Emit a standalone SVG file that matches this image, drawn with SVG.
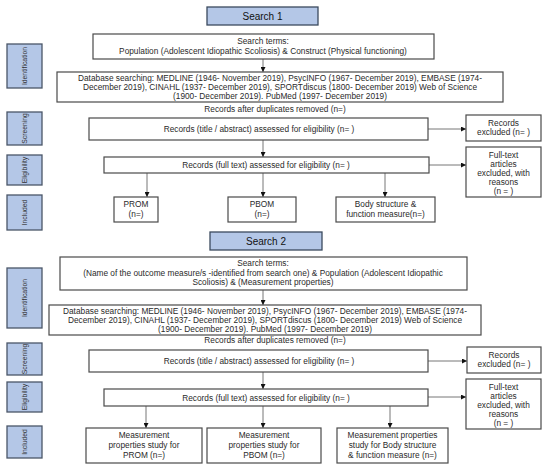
<svg xmlns="http://www.w3.org/2000/svg" width="544" height="467" viewBox="0 0 544 467">
<defs>
<marker id="ah" viewBox="0 0 10 10" refX="10" refY="5" markerWidth="5" markerHeight="5" orient="auto" markerUnits="userSpaceOnUse">
<path d="M0,0 L10,5 L0,10 z" fill="#111"/>
</marker>
<style>
.bx{fill:#fff;stroke:#4a4a4a;stroke-width:1.2}
.hd{fill:#b4c7e7;stroke:#3b4a5e;stroke-width:1.3}
.sd{fill:#b4c7e7;stroke:#4a5668;stroke-width:1.3}
.t{font-family:"Liberation Sans",Arial,sans-serif;font-size:8.3px;fill:#2a2a2a;text-anchor:middle}
.h{font-family:"Liberation Sans",Arial,sans-serif;font-size:10px;fill:#111;text-anchor:middle}
.s{font-family:"Liberation Sans",Arial,sans-serif;font-size:6.8px;fill:#333;text-anchor:middle}
.c{fill:none;stroke:#777;stroke-width:1;marker-end:url(#ah)}
</style>
</defs>
<rect width="544" height="467" fill="#fff"/>

<!-- side labels -->
<g id="side-identification-1"><rect class="sd" x="7" y="44" width="35" height="44"/><text class="s" transform="translate(27 66) rotate(-90)">Identification</text></g>
<g id="side-screening-1"><rect class="sd" x="7" y="112" width="35" height="33"/><text class="s" transform="translate(27 128.5) rotate(-90)">Screening</text></g>
<g id="side-eligibility-1"><rect class="sd" x="7" y="155" width="35" height="30"/><text class="s" transform="translate(27 170) rotate(-90)">Eligibility</text></g>
<g id="side-included-1"><rect class="sd" x="7" y="195" width="35" height="35"/><text class="s" transform="translate(27 212.5) rotate(-90)">Included</text></g>
<g id="side-identification-2"><rect class="sd" x="7" y="268" width="35" height="60"/><text class="s" transform="translate(27 298) rotate(-90)">Identification</text></g>
<g id="side-screening-2"><rect class="sd" x="7" y="343" width="35" height="32"/><text class="s" transform="translate(27 359) rotate(-90)">Screening</text></g>
<g id="side-eligibility-2"><rect class="sd" x="7" y="382" width="35" height="30"/><text class="s" transform="translate(27 397) rotate(-90)">Eligibility</text></g>
<g id="side-included-2"><rect class="sd" x="7" y="426" width="35" height="32"/><text class="s" transform="translate(27 442) rotate(-90)">Included</text></g>

<!-- connectors -->
<g id="connectors">
<line class="c" x1="263" y1="59" x2="263" y2="72"/>
<line class="c" x1="428" y1="129" x2="466" y2="129"/>
<line class="c" x1="263" y1="140" x2="263" y2="157"/>
<line class="c" x1="429" y1="165" x2="466" y2="165"/>
<line class="c" x1="147" y1="173" x2="147" y2="197"/>
<line class="c" x1="263" y1="173" x2="263" y2="197"/>
<line class="c" x1="385" y1="173" x2="385" y2="197"/>
<line class="c" x1="263" y1="290" x2="263" y2="305"/>
<line class="c" x1="428" y1="361" x2="467" y2="361"/>
<line class="c" x1="263" y1="372" x2="263" y2="389"/>
<line class="c" x1="428" y1="397" x2="466" y2="397"/>
<line class="c" x1="146" y1="406" x2="146" y2="428"/>
<line class="c" x1="263" y1="406" x2="263" y2="428"/>
<line class="c" x1="390" y1="406" x2="390" y2="428"/>
</g>

<!-- Search 1 -->
<g id="search1"><rect class="hd" x="207" y="7" width="111" height="18"/><text class="h" x="262.5" y="19.5">Search 1</text></g>
<g id="terms1"><rect class="bx" x="93" y="34" width="341" height="25"/>
<text class="t" x="263" y="44">Search terms:</text>
<text class="t" x="263" y="54">Population (Adolescent Idiopathic Scoliosis) &amp; Construct (Physical functioning)</text></g>
<g id="db1"><rect class="bx" x="57" y="72" width="446" height="30"/>
<text class="t" x="280" y="81">Database searching: MEDLINE (1946- November 2019), PsycINFO (1967- December 2019), EMBASE (1974-</text>
<text class="t" x="280" y="90">December 2019), CINAHL (1937- December 2019), SPORTdiscus (1800- December 2019) Web of Science</text>
<text class="t" x="280" y="99">(1900- December 2019). PubMed (1997- December 2019)</text></g>
<g id="dup1"><text class="t" x="275" y="112">Records after duplicates removed (n=)</text></g>
<g id="title1"><rect class="bx" x="89" y="118" width="339" height="22"/><text class="t" x="259" y="131.5">Records (title / abstract) assessed for eligibility (n= )</text></g>
<g id="excl1"><rect class="bx" x="466" y="115" width="75" height="26"/>
<text class="t" x="503.5" y="126">Records</text><text class="t" x="503.5" y="135">excluded (n= )</text></g>
<g id="full1"><rect class="bx" x="104" y="157" width="325" height="16"/><text class="t" x="266" y="168">Records (full text) assessed for eligibility (n= )</text></g>
<g id="ftexcl1"><rect class="bx" x="466" y="147" width="75" height="50"/>
<text class="t" x="503.5" y="158">Full-text</text><text class="t" x="503.5" y="167">articles</text><text class="t" x="503.5" y="176">excluded, with</text><text class="t" x="503.5" y="185">reasons</text><text class="t" x="503.5" y="194">(n =  )</text></g>
<g id="prom1"><rect class="bx" x="114" y="197" width="44" height="25"/><text class="t" x="136" y="207">PROM</text><text class="t" x="136" y="217">(n=)</text></g>
<g id="pbom1"><rect class="bx" x="228" y="197" width="68" height="25"/><text class="t" x="262" y="207">PBOM</text><text class="t" x="262" y="217">(n=)</text></g>
<g id="body1"><rect class="bx" x="336" y="197" width="99" height="25"/><text class="t" x="385.5" y="207">Body structure &amp;</text><text class="t" x="385.5" y="217">function measure(n=)</text></g>

<!-- Search 2 -->
<g id="search2"><rect class="hd" x="210" y="232" width="112" height="18"/><text class="h" x="266" y="244.5">Search 2</text></g>
<g id="terms2"><rect class="bx" x="60" y="257" width="407" height="33"/>
<text class="t" x="263" y="266">Search terms:</text>
<text class="t" x="263" y="275.5">(Name of the outcome measure/s -identified from search one) &amp; Population (Adolescent Idiopathic</text>
<text class="t" x="263" y="285">Scoliosis)   &amp; (Measurement properties)</text></g>
<g id="db2"><rect class="bx" x="49" y="305" width="432" height="30"/>
<text class="t" x="265" y="314">Database searching: MEDLINE (1946- November 2019), PsycINFO (1967- December 2019), EMBASE (1974-</text>
<text class="t" x="265" y="323">December 2019), CINAHL (1937- December 2019), SPORTdiscus (1800- December 2019) Web of Science</text>
<text class="t" x="265" y="332">(1900- December 2019). PubMed (1997- December 2019)</text></g>
<g id="dup2"><text class="t" x="275" y="343">Records after duplicates removed (n=)</text></g>
<g id="title2"><rect class="bx" x="89" y="350" width="339" height="22"/><text class="t" x="259" y="363.5">Records (title / abstract) assessed for eligibility (n= )</text></g>
<g id="excl2"><rect class="bx" x="467" y="347" width="74" height="26"/>
<text class="t" x="504" y="358">Records</text><text class="t" x="504" y="367">excluded (n= )</text></g>
<g id="full2"><rect class="bx" x="104" y="389" width="324" height="17"/><text class="t" x="266" y="400.5">Records (full text) assessed for eligibility (n= )</text></g>
<g id="ftexcl2"><rect class="bx" x="466" y="379" width="75" height="50"/>
<text class="t" x="503.5" y="390">Full-text</text><text class="t" x="503.5" y="399">articles</text><text class="t" x="503.5" y="408">excluded, with</text><text class="t" x="503.5" y="417">reasons</text><text class="t" x="503.5" y="426">(n =  )</text></g>
<g id="prom2"><rect class="bx" x="86" y="428" width="116" height="35"/>
<text class="t" x="144" y="438">Measurement</text><text class="t" x="144" y="448">properties study for</text><text class="t" x="144" y="458">PROM (n=)</text></g>
<g id="pbom2"><rect class="bx" x="207" y="428" width="114" height="35"/>
<text class="t" x="264" y="438">Measurement</text><text class="t" x="264" y="448">properties study for</text><text class="t" x="264" y="458">PBOM (n=)</text></g>
<g id="body2"><rect class="bx" x="337" y="428" width="111" height="35"/>
<text class="t" x="392.5" y="438">Measurement properties</text><text class="t" x="392.5" y="448">study for Body structure</text><text class="t" x="392.5" y="458">&amp; function measure (n=)</text></g>
</svg>
